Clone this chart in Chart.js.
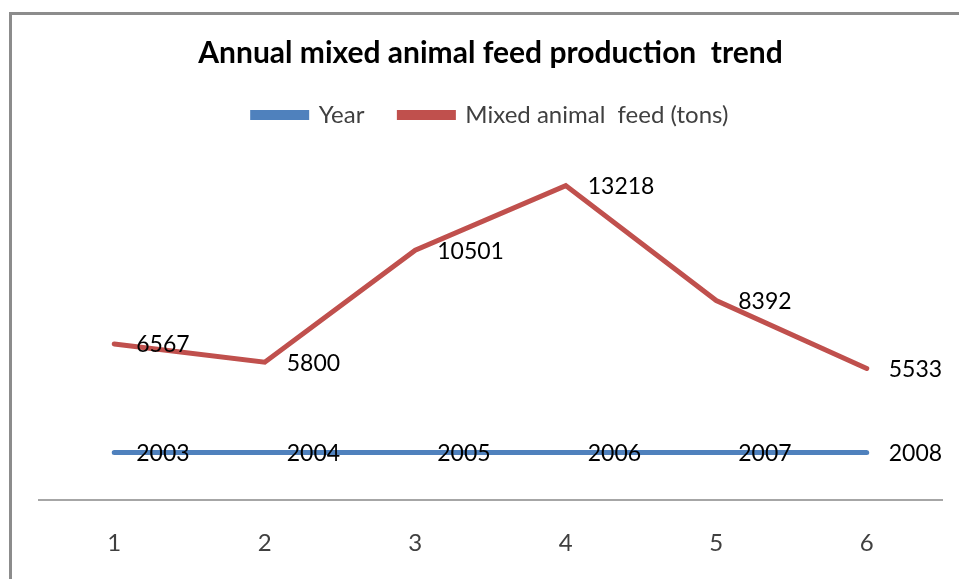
<!DOCTYPE html>
<html>
<head>
<meta charset="utf-8">
<title>Annual mixed animal feed production trend</title>
<script src="https://cdn.jsdelivr.net/npm/chart.js@4/dist/chart.umd.min.js"></script>
<style>
  html, body { margin: 0; padding: 0; background: #fff; overflow: hidden; }
  #wrap { position: relative; width: 959px; height: 579px; }
  #frame {
    position: absolute; left: 9px; top: 12px; width: 1000px; height: 700px;
    border-left: 3px solid #8c8c8c; border-top: 3px solid #8c8c8c;
    pointer-events: none;
  }
  canvas { position: absolute; left: 0; top: 0; }
</style>
</head>
<body>
<div id="wrap">
  <canvas id="feed-chart" width="959" height="579"></canvas>
  <div id="frame"></div>
</div>
<script>
const labels = ['1', '2', '3', '4', '5', '6']
const years = [2003, 2004, 2005, 2006, 2007, 2008]
const feedTons = [6567, 5800, 10501, 13218, 8392, 5533]

const FONT = 'Lato, "Open Sans", sans-serif'

// writes each point's value just to the right of it
const valueLabels = {
  id: 'valueLabels',
  afterDatasetsDraw(chart) {
    const ctx = chart.ctx
    ctx.save()
    ctx.font = '23px ' + FONT
    ctx.fillStyle = '#000'
    ctx.textAlign = 'left'
    ctx.textBaseline = 'middle'
    chart.data.datasets.forEach((ds, i) => {
      chart.getDatasetMeta(i).data.forEach((pt, j) => {
        ctx.fillText(String(ds.data[j]), pt.x + 22, pt.y + 1)
      })
    })
    ctx.restore()
  }
}

// extra room between the legend and the plot
const legendGap = {
  id: 'legendGap',
  beforeInit(chart) {
    const fit = chart.legend.fit
    chart.legend.fit = function () {
      fit.bind(chart.legend)()
      this.height += 30
    }
  }
}

const data = {
  labels,
  datasets: [
    {
      label: 'Year',
      data: years,
      borderColor: '#4F81BD',
      backgroundColor: '#4F81BD',
      borderWidth: 5,
    },
    {
      label: 'Mixed animal  feed (tons)',
      data: feedTons,
      borderColor: '#C0504D',
      backgroundColor: '#C0504D',
      borderWidth: 5,
    },
  ]
}

new Chart(document.getElementById('feed-chart'), {
  type: 'line',
  data,
  plugins: [valueLabels, legendGap],
  options: {
    responsive: false,
    animation: false,
    layout: { padding: { left: 39, right: 17, top: 0, bottom: -8 } },
    elements: {
      point: { radius: 0, hoverRadius: 0 },
      line: { tension: 0, borderCapStyle: 'round', borderJoinStyle: 'miter' }
    },
    plugins: {
      tooltip: { enabled: false },
      title: {
        display: true,
        text: 'Annual mixed animal feed production  trend',
        color: '#000',
        font: { family: FONT, size: 30, weight: 'bold', lineHeight: 1 },
        padding: { top: 38, bottom: 0 }
      },
      legend: {
        display: true,
        labels: {
          color: '#404040',
          font: { family: FONT, size: 24 },
          boxWidth: 54,
          boxHeight: 5,
          padding: 35
        }
      }
    },
    scales: {
      x: {
        offset: true,
        grid: { display: false, drawTicks: false },
        border: { display: true, color: '#a6a6a6', width: 2 },
        ticks: { color: '#404040', font: { family: FONT, size: 24 }, padding: 29 }
      },
      y: {
        display: false,
        min: 0,
        max: 14000
      }
    }
  }
})
</script>
</body>
</html>
